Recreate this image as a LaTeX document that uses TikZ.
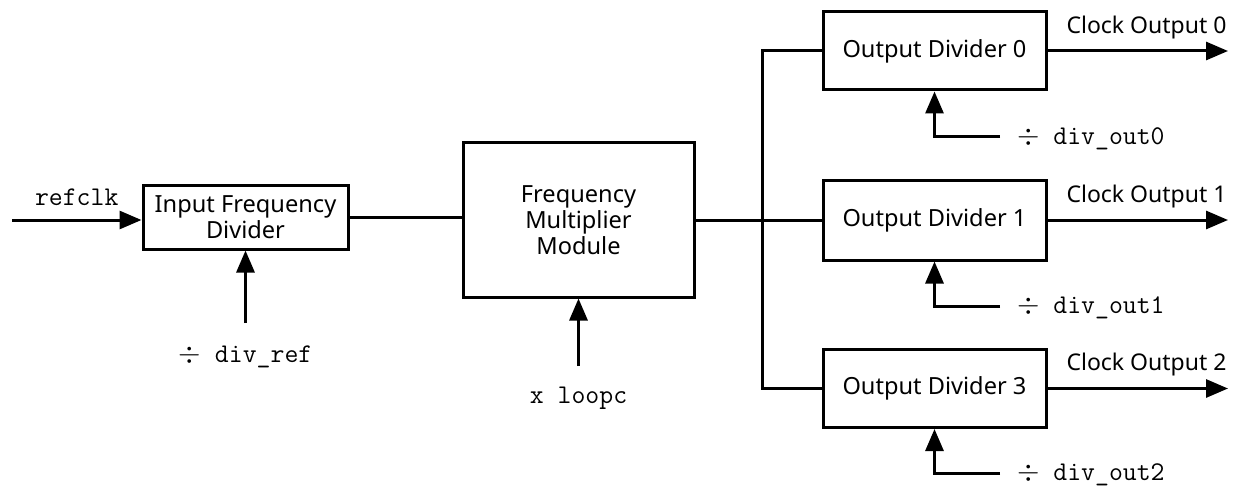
\documentclass[tikz,border=0pt]{standalone}
\usepackage{fontspec}
\setmainfont{Noto Sans}
\usetikzlibrary{arrows.meta,positioning,calc}

\begin{document}
\begin{tikzpicture}[
    x=0.5pt, y=-0.5pt,
    box/.style={rectangle, draw, line width=1.5pt, align=center, font=\fontsize{11.8}{13}\selectfont, inner sep=2pt},
    outbox/.style={box, minimum width=111.5pt, minimum height=39pt},
    arrow/.style={-{Triangle[length=11pt, width=9pt]}, line width=1.5pt},
    line/.style={line width=1.5pt},
    label/.style={font=\fontsize{11.5}{13}\selectfont, inner xsep=0pt},
    param/.style={font=\fontsize{13.5}{15}\ttfamily}
]
\useasboundingbox (0,0) rectangle (1237,492);

% Main components
\node[box, minimum width=102.5pt, minimum height=32pt] (indiv) at (245.5,217) {Input Frequency\\Divider};
\node[box, minimum width=115.5pt, minimum height=77pt] (mult) at (578.5,220) {Frequency\\Multiplier\\Module};

% Output dividers
\node[outbox] (out0) at (934.5,51) {Output Divider 0};
\node[outbox, minimum height=40pt] (out1) at (934.5,220) {Output Divider 1};
\node[outbox] (out3) at (934.5,388.5) {Output Divider 3};

% Free ends
\coordinate (refin) at (12,220);
\coordinate (divref) at (245.5,323);
\coordinate (loopc) at (578.5,366);
\coordinate (bus) at (762,220);
\coordinate (clk0) at (1228,51);
\coordinate (clk1) at (1228,220);
\coordinate (clk2) at (1228,388.5);
\coordinate (fb0) at (1000,137);
\coordinate (fb1) at (1000,306);
\coordinate (fb2) at (1000,473);

% Input side
\draw[arrow] (refin) -- (refin -| indiv.west) node[pos=0.5, above, param, yshift=3pt] {refclk};
\draw[arrow] (divref) -- (indiv.south);
\node[param, below=8pt of divref] (divreflab) {$\div$ div\_ref};
\draw[line] (indiv.east) -- (indiv.east -| mult.west);
\draw[arrow] (loopc) -- (mult.south);
\node[param, below=7pt of loopc] (loopclab) {x loopc};

% Distribution bus
\draw[line] (mult.east) -- (bus);
\draw[line] (out0.west) -| (bus) |- (out3.west);
\draw[line] (bus) -- (out1.west);

% Clock outputs
\draw[arrow] (out0.east) -- (clk0) node[label, anchor=south east, yshift=2pt] {Clock Output 0};
\draw[arrow] (out1.east) -- (clk1) node[label, anchor=south east, yshift=2pt] {Clock Output 1};
\draw[arrow] (out3.east) -- (clk2) node[label, anchor=south east, yshift=2pt] {Clock Output 2};

% Divider settings
\draw[arrow] (fb0) -| (out0.south);
\draw[arrow] (fb1) -| (out1.south);
\draw[arrow] (fb2) -| (out3.south);
\node[param, right=5pt of fb0, yshift=-1pt] (div0lab) {$\div$ div\_out0};
\node[param, right=5pt of fb1, yshift=-1pt] (div1lab) {$\div$ div\_out1};
\node[param, right=5pt of fb2, yshift=-1pt] (div2lab) {$\div$ div\_out2};

\end{tikzpicture}
\end{document}
